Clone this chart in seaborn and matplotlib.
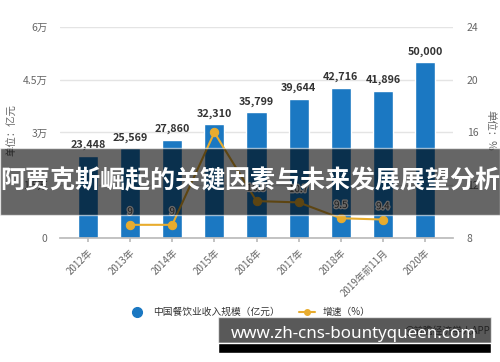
import matplotlib
matplotlib.use('Agg')
import matplotlib.pyplot as plt
import matplotlib.patheffects as pe
from matplotlib.patches import Rectangle
from matplotlib.lines import Line2D
import seaborn as sns
import pandas as pd
import numpy as np

# data
years = ["2012年", "2013年", "2014年", "2015年", "2016年", "2017年", "2018年", "2019年前11月", "2020年"]
revenue = [23448, 25569, 27860, 32310, 35799, 39644, 42716, 41896, 50000]
growth = [np.nan, 9, 9, 16, 10.8, 10.7, 9.5, 9.4, np.nan]
growth_labels = ["", "9", "9", "", "10.8", "10.7", "9.5", "9.4", ""]
left_ticks = [0, 15000, 30000, 45000, 60000]
left_ticklabels = ["0", "1.5万", "3万", "4.5万", "6万"]
right_ticks = [8, 12, 16, 20, 24]

title = "阿贾克斯崛起的关键因素与未来发展展望分析"
footer = "www.zh-cns-bountyqueen.com"

BLUE = "#1b78c2"
GOLD = "#e8ac2e"
GRAY = "#666666"

sns.set_theme(style="white")
plt.rcParams['font.family'] = ['Noto Sans CJK SC', 'DejaVu Sans']

df = pd.DataFrame({"year": years, "revenue": revenue})

fig = plt.figure(figsize=(5, 3.62), dpi=100)
ax = fig.add_axes([0.12, 0.3425, 0.786, 0.583])

sns.barplot(data=df, x="year", y="revenue", color=BLUE, width=0.48,
            saturation=1, ax=ax, zorder=2)
ax.set_ylim(0, 60000)
ax.set_yticks(left_ticks)
ax.set_yticklabels(left_ticklabels)
ax.yaxis.grid(True, color="#e4e4e4", linewidth=1, zorder=0)
ax.set_xlabel("")
ax.set_ylabel("")
for s in ["top", "right", "left"]:
    ax.spines[s].set_visible(False)
ax.spines["bottom"].set_color("#bbbbbb")
ax.tick_params(axis="y", length=0, pad=9, labelsize=7.5, labelcolor=GRAY)
ax.tick_params(axis="x", length=3, color="#bbbbbb", bottom=True, pad=4,
               labelsize=7, labelcolor=GRAY)
plt.setp(ax.get_xticklabels(), rotation=45, ha="right", rotation_mode="anchor")

ax.bar_label(ax.containers[0], labels=[f"{v:,}" for v in revenue], padding=4,
             fontsize=7.8, fontweight="bold", color="#333333")

ax2 = ax.twinx()
x = np.arange(len(years))
sns.lineplot(x=x, y=growth, ax=ax2, color=GOLD, linewidth=1.5, marker="o",
             markersize=6, markeredgecolor=GOLD)
ax2.set_ylim(8, 24)
ax2.set_yticks(right_ticks)
for s in ["top", "right", "left", "bottom"]:
    ax2.spines[s].set_visible(False)
ax2.tick_params(axis="y", length=0, pad=10, labelsize=7.5, labelcolor=GRAY)
for xi, g, lab in zip(x, growth, growth_labels):
    if lab:
        ax2.annotate(lab, (xi, g), xytext=(0, 6), textcoords="offset points",
                     ha="center", va="bottom", fontsize=7, color="#444444",
                     path_effects=[pe.withStroke(linewidth=2, foreground="white")])

fig.text(0.024, 0.64, "单位：亿元", rotation=90, ha="center", va="center",
         fontsize=7.5, color=GRAY)
fig.text(0.98, 0.64, "单位：%", rotation=270, ha="center", va="center",
         fontsize=7.5, color=GRAY)

# legend
handles = [
    Line2D([], [], marker="o", linestyle="none", color=BLUE, markersize=7),
    Line2D([], [], marker="o", color=GOLD, linewidth=1.5, markersize=4),
]
fig.legend(handles, ["中国餐饮业收入规模（亿元）", "增速（%）"], loc="center",
           bbox_to_anchor=(0.5, 0.138), ncol=2, frameon=False, fontsize=7,
           handlelength=1.6, columnspacing=2, labelcolor="#333333")

fig.text(0.98, 0.085, "@前瞻经济学人APP", ha="right", va="center", fontsize=7,
         color=GRAY)

# overlay title band
fig.patches.append(Rectangle((0, 0.406), 1, 0.185, transform=fig.transFigure,
                             facecolor="black", alpha=0.6, zorder=10))
fig.text(0.5, 0.5, title, ha="center", va="center", fontsize=18,
         fontweight="bold", color="white", zorder=11)

# footer band
fig.patches.append(Rectangle((0.436, 0.0525), 0.546, 0.0715, transform=fig.transFigure,
                             facecolor="black", alpha=0.65, zorder=10))
fig.patches.append(Rectangle((0.436, 0.0249), 0.546, 0.0276, transform=fig.transFigure,
                             facecolor="black", zorder=10))
fig.text(0.708, 0.077, footer, ha="center", va="center", fontsize=12.2,
         fontweight="bold", color="white", family=["Noto Sans", "DejaVu Sans"], zorder=11)

fig.savefig("out.png", dpi=100)
